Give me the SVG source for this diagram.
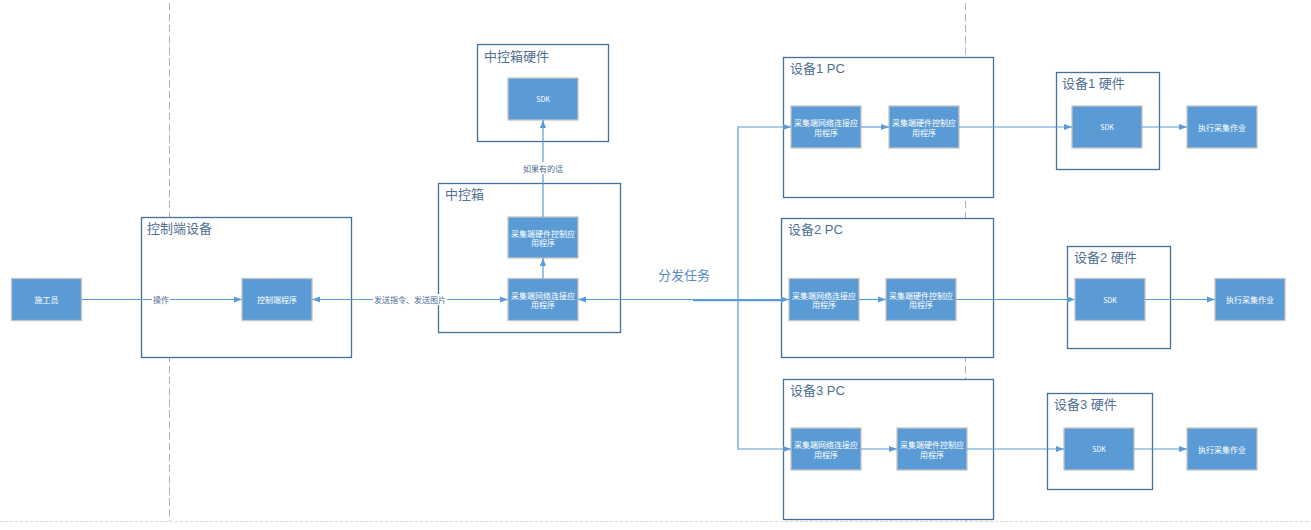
<svg xmlns="http://www.w3.org/2000/svg" width="1311" height="530" viewBox="0 0 1311 530">
<style>
.c{fill:#fff;stroke:#41719c;stroke-width:1.3}
.b{fill:#5b9bd5;stroke:#c4c4c4;stroke-width:1.3}
.t{font-family:"Liberation Sans","Noto Sans CJK SC",sans-serif;font-size:13px;fill:#4f6f94}
.n{font-family:"Noto Sans CJK SC",sans-serif;font-size:8px;fill:#fff;text-anchor:middle;dominant-baseline:central}
.e{stroke:#5b9bd5;stroke-width:1.2;fill:none}
.l{font-family:"Noto Sans CJK SC",sans-serif;font-size:8px;fill:#4a6a92;text-anchor:middle;dominant-baseline:central}
.d{stroke:#b3b3b3;stroke-width:1;stroke-dasharray:7.5 3.5;fill:none}
</style>
<defs>
<marker id="a" viewBox="0 0 10 10" refX="10" refY="5" markerWidth="8" markerHeight="8" markerUnits="userSpaceOnUse" orient="auto-start-reverse"><path d="M0,1.2 L10,5 L0,8.8 z" fill="#5b9bd5"/></marker>
</defs>
<rect width="1311" height="530" fill="#fff"/>
<g id="guides">
<line class="d" x1="169.5" y1="3" x2="169.5" y2="521"/>
<line class="d" x1="965.5" y1="3" x2="965.5" y2="521"/>
<line x1="0" y1="521.5" x2="1311" y2="521.5" stroke="#d6d6d6" stroke-width="1" stroke-dasharray="3 2"/>
</g>

<g id="worker"><rect class="b" x="11.5" y="278.5" width="70" height="42"/><text class="n" x="46.5" y="299.5">施工员</text></g>

<g id="control-device"><rect class="c" x="141.5" y="217.5" width="210" height="140"/><text class="t" x="147" y="233">控制端设备</text>
<g id="control-app"><rect class="b" x="242" y="278.5" width="70" height="42"/><text class="n" x="277" y="299.5">控制端程序</text></g>
</g>

<g id="hub-hw"><rect class="c" x="477.5" y="44.5" width="131" height="97"/><text class="t" x="484" y="61">中控箱硬件</text>
<g id="hub-sdk"><rect class="b" x="508" y="78" width="70" height="42"/><text class="n" x="543" y="99" style="font-size:7px">SDK</text></g>
</g>

<g id="hub"><rect class="c" x="438.5" y="183.5" width="182" height="149"/><text class="t" x="445" y="199">中控箱</text>
<g id="hub-hwapp"><rect class="b" x="508" y="217" width="70" height="41"/><text class="n" x="543" y="233">采集端硬件控制应</text><text class="n" x="543" y="242.5">用程序</text></g>
<g id="hub-netapp"><rect class="b" x="508" y="278.5" width="70" height="42"/><text class="n" x="543" y="295">采集端网络连接应</text><text class="n" x="543" y="304.5">用程序</text></g>
</g>

<g id="pc1"><rect class="c" x="783.5" y="57.5" width="210" height="140"/><text class="t" x="790" y="73">设备1 PC</text>
<g id="pc1-net"><rect class="b" x="791" y="106" width="70" height="42"/><text class="n" x="826" y="122.5">采集端网络连接应</text><text class="n" x="826" y="132">用程序</text></g>
<g id="pc1-hw"><rect class="b" x="889" y="106" width="70" height="42"/><text class="n" x="924" y="122.5">采集端硬件控制应</text><text class="n" x="924" y="132">用程序</text></g>
</g>
<g id="hw1"><rect class="c" x="1056.5" y="72.5" width="103" height="97"/><text class="t" x="1062" y="88">设备1 硬件</text>
<g id="sdk1"><rect class="b" x="1072" y="106" width="70" height="42"/><text class="n" x="1107" y="127" style="font-size:7px">SDK</text></g>
</g>
<g id="job1"><rect class="b" x="1187" y="106" width="70" height="42"/><text class="n" x="1222" y="127">执行采集作业</text></g>

<g id="pc2"><rect class="c" x="781.5" y="218.5" width="212" height="139"/><text class="t" x="788" y="234">设备2 PC</text>
<g id="pc2-net"><rect class="b" x="789" y="278.5" width="70" height="42"/><text class="n" x="824" y="295">采集端网络连接应</text><text class="n" x="824" y="304.5">用程序</text></g>
<g id="pc2-hw"><rect class="b" x="886" y="278.5" width="70" height="42"/><text class="n" x="921" y="295">采集端硬件控制应</text><text class="n" x="921" y="304.5">用程序</text></g>
</g>
<g id="hw2"><rect class="c" x="1067.5" y="246.5" width="103" height="102"/><text class="t" x="1074" y="262">设备2 硬件</text>
<g id="sdk2"><rect class="b" x="1075" y="278.5" width="70" height="42"/><text class="n" x="1110" y="299.5" style="font-size:7px">SDK</text></g>
</g>
<g id="job2"><rect class="b" x="1215" y="278.5" width="70" height="42"/><text class="n" x="1250" y="299.5">执行采集作业</text></g>

<g id="pc3"><rect class="c" x="783.5" y="379.5" width="210" height="140"/><text class="t" x="790" y="395">设备3 PC</text>
<g id="pc3-net"><rect class="b" x="791" y="428" width="70" height="42"/><text class="n" x="826" y="444.5">采集端网络连接应</text><text class="n" x="826" y="454">用程序</text></g>
<g id="pc3-hw"><rect class="b" x="897" y="428" width="70" height="42"/><text class="n" x="932" y="444.5">采集端硬件控制应</text><text class="n" x="932" y="454">用程序</text></g>
</g>
<g id="hw3"><rect class="c" x="1047.5" y="393.5" width="105" height="96"/><text class="t" x="1054" y="409">设备3 硬件</text>
<g id="sdk3"><rect class="b" x="1064" y="428" width="70" height="42"/><text class="n" x="1099" y="449" style="font-size:7px">SDK</text></g>
</g>
<g id="job3"><rect class="b" x="1187" y="428" width="70" height="42"/><text class="n" x="1222" y="449">执行采集作业</text></g>

<g id="connectors">
<line class="e" x1="81.5" y1="299.5" x2="242" y2="299.5" marker-end="url(#a)"/>
<rect x="152" y="294" width="18" height="11" fill="#fff"/><text class="l" x="161" y="299.5">操作</text>
<line class="e" x1="312" y1="299.5" x2="508" y2="299.5" marker-start="url(#a)" marker-end="url(#a)"/>
<rect x="373" y="294" width="74" height="11" fill="#fff"/><text class="l" x="410" y="299.5">发送指令、发送图片</text>
<line class="e" x1="543" y1="278.5" x2="543" y2="258" marker-end="url(#a)"/>
<line class="e" x1="543" y1="217" x2="543" y2="120" marker-end="url(#a)"/>
<rect x="521" y="162" width="44" height="12" fill="#fff"/><text class="l" x="543" y="168">如果有的话</text>
<line class="e" x1="578" y1="299.5" x2="789" y2="299.5" marker-start="url(#a)" marker-end="url(#a)"/>
<line class="e" x1="693" y1="300.6" x2="784" y2="300.6"/>
<polyline class="e" points="738,299.5 738,127 791,127" marker-end="url(#a)"/>
<polyline class="e" points="738,299.5 738,449 791,449" marker-end="url(#a)"/>
<text x="684" y="280" style="font-family:'Noto Sans CJK SC',sans-serif;font-size:13px;fill:#5a8ac6;text-anchor:middle">分发任务</text>
<line class="e" x1="861" y1="127" x2="889" y2="127" marker-end="url(#a)"/>
<line class="e" x1="959" y1="127" x2="1072" y2="127" marker-end="url(#a)"/>
<line class="e" x1="1142" y1="127" x2="1187" y2="127" marker-end="url(#a)"/>
<line class="e" x1="859" y1="299.5" x2="886" y2="299.5" marker-end="url(#a)"/>
<line class="e" x1="956" y1="299.5" x2="1075" y2="299.5" marker-end="url(#a)"/>
<line class="e" x1="1145" y1="299.5" x2="1215" y2="299.5" marker-end="url(#a)"/>
<line class="e" x1="861" y1="449" x2="897" y2="449" marker-end="url(#a)"/>
<line class="e" x1="967" y1="449" x2="1064" y2="449" marker-end="url(#a)"/>
<line class="e" x1="1134" y1="449" x2="1187" y2="449" marker-end="url(#a)"/>
</g>
</svg>
